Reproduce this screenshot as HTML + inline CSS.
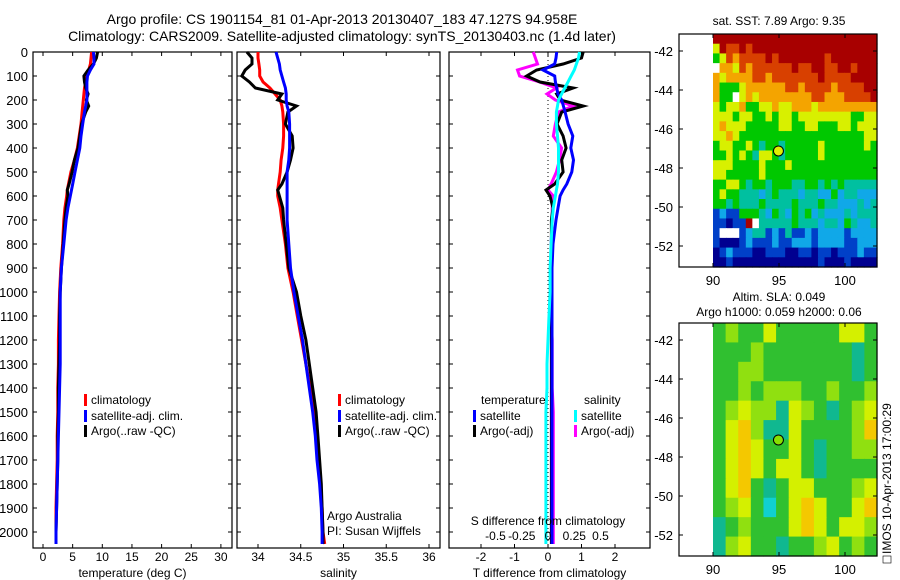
<!DOCTYPE html>
<html><head><meta charset="utf-8"><style>
body{margin:0;background:#fff;}
svg{display:block;font-family:"Liberation Sans",sans-serif;}
text{fill:#000;}
</style></head><body>
<svg id="fig" width="900" height="580" viewBox="0 0 900 580">
<text x="342" y="24" font-size="14" text-anchor="middle">Argo profile: CS 1901154_81 01-Apr-2013 20130407_183 47.127S 94.958E</text>
<text x="342" y="41" font-size="14" text-anchor="middle">Climatology: CARS2009. Satellite-adjusted climatology: synTS_20130403.nc (1.4d later)</text>
<text x="779" y="25" font-size="12" text-anchor="middle">sat. SST: 7.89 Argo: 9.35</text>
<text x="779" y="301" font-size="12" text-anchor="middle">Altim. SLA: 0.049</text>
<text x="779" y="316" font-size="12" text-anchor="middle">Argo h1000: 0.059 h2000: 0.06</text>
<g transform="translate(891,470) rotate(-90)"><rect x="-93" y="-8" width="7" height="8" fill="none" stroke="#000" stroke-width="0.6"/><text x="-84" y="0" font-size="12">IMOS 10-Apr-2013 17:00:29</text></g>
</svg>
<script>
const depths=[0,25,50,75,100,125,150,175,200,225,250,300,350,400,450,500,550,575,600,650,700,800,900,1000,1100,1200,1300,1400,1500,1600,1700,1800,1900,2000,2050];
const tempClim=[8.2,8.1,8.0,7.7,7.4,7.2,7.0,6.9,6.8,6.7,6.6,6.4,6.1,5.8,5.3,4.7,4.3,4.1,4.0,3.7,3.5,3.3,3.0,2.8,2.7,2.6,2.6,2.5,2.5,2.4,2.4,2.3,2.2,2.2,2.2];
const tempSat=[8.5,8.6,8.6,8.0,7.5,7.4,7.4,7.4,7.4,7.2,7.0,6.7,6.4,6.2,5.8,5.4,5.0,4.8,4.6,4.2,3.9,3.5,3.1,2.9,2.9,2.9,2.9,2.8,2.7,2.6,2.5,2.4,2.3,2.2,2.2];
const tempArgo=[9.2,9.0,8.5,7.6,6.9,7.0,7.2,7.6,7.3,7.7,7.2,6.5,6.2,5.9,5.3,4.9,4.4,4.1,4.2,3.9,3.7,3.4,3.1,2.9,2.8,2.8,2.7,2.6,2.6,2.5,2.5,2.4,2.3,2.2,2.2];
const salClim=[34.0,34.0,34.01,34.02,34.02,34.06,34.14,34.20,34.26,34.28,34.29,34.30,34.30,34.29,34.27,34.26,34.24,34.23,34.23,34.26,34.28,34.32,34.35,34.41,34.46,34.51,34.56,34.61,34.65,34.68,34.71,34.73,34.75,34.76,34.78];
const salSat=[34.21,34.23,34.25,34.26,34.28,34.30,34.32,34.33,34.33,34.34,34.36,34.37,34.37,34.37,34.36,34.34,34.34,34.34,34.34,34.34,34.34,34.36,34.38,34.42,34.47,34.52,34.56,34.60,34.64,34.67,34.69,34.72,34.74,34.75,34.75];
const salArgo=[33.87,33.93,33.93,33.85,33.81,33.9,33.97,34.28,34.23,34.45,34.35,34.32,34.40,34.41,34.38,34.34,34.28,34.23,34.25,34.29,34.30,34.33,34.36,34.45,34.50,34.56,34.60,34.64,34.68,34.70,34.72,34.74,34.75,34.76,34.76];
const tDiffSat=[0.26,0.24,0.2,-0.15,0.2,0.22,0.26,0.3,0.41,0.46,0.51,0.6,0.74,0.68,0.76,0.71,0.56,0.45,0.36,0.3,0.24,0.15,0.12,0.12,0.12,0.12,0.12,0.12,0.12,0.12,0.12,0.12,0.12,0.12,0.12];
const tDiffArgo=[1.05,1.0,0.45,-0.34,-0.64,-0.24,0.75,0.26,0.36,1.05,0.41,0.27,0.45,0.54,0.41,0.45,0.2,-0.06,0.06,0.15,0.1,0.1,0.1,0.1,0.1,0.1,0.1,0.1,0.1,0.1,0.1,0.1,0.1,0.1,0.1];
const sDiffSat=[0.3,0.29,0.27,0.25,0.22,0.19,0.16,0.13,0.1,0.09,0.08,0.08,0.09,0.1,0.1,0.1,0.09,0.08,0.07,0.05,0.04,0.03,0.02,0.02,0.01,0.0,-0.01,-0.01,-0.02,-0.02,-0.02,-0.02,-0.02,-0.02,-0.02];
const sDiffArgo=[-0.14,-0.12,-0.1,-0.29,-0.27,-0.08,0.08,-0.01,0.07,0.24,0.1,0.07,0.05,0.13,0.11,0.08,0.03,0.0,0.05,0.04,0.04,0.03,0.03,0.03,0.03,0.04,0.04,0.04,0.05,0.05,0.05,0.05,0.05,0.05,0.05];
const depthTicks=[0,100,200,300,400,500,600,700,800,900,1000,1100,1200,1300,1400,1500,1600,1700,1800,1900,2000];
const tempTicks=[0,5,10,15,20,25,30];
const salTicks=[34,34.5,35,35.5,36];
const tDiffTicks=[-2,-1,0,1,2];
const sDiffTicks=[-0.5,-0.25,0,0.25,0.5];
const latTicks=[-42,-44,-46,-48,-50,-52];
const lonTicks=[90,95,100];
const argoLon=94.958, argoLat=-47.127;
const sstRows=["RRRRRRRRRRRRRRRRRRRRRRRRR","yRrrRrRRRRRRRRRRRRRRRRRRR","gyrorrrrRrRRRRRRRrRRRRRRR","wooyrorrrrrrRrrRRrrRRrRRR","oyoooorrorrrrrrrRrrrrRRRR","ogggyoooooorrorrrrorrrrRR","oggwyoyoooooooorrooorrrrR","ygyyoggyyoyyoooyooooooooo","yyygyyggygyygyyyyyyyyggyy","yoyyygggggyyggyygggyygyyy","yyoygggggggggggggggggggyy","gyyggygtggtgggggyggggggyg","ggygygtyygtgggggygggggggg","yyyggggygggyggggggggggggg","yygggggyggggggggggggggggg","ggyygtggtgggttggtgtgttttt","gyggtttctgtttcttccgcttccc","ggtgtttgttttgtttgttccctct","bcbbgggtcgtcgtgctccctcttt","bbnbbRwtttttgtttcttcgtcct","bwwwbcttbcbtbbcbccccbcccc","bnnnbcbbbcbbcccbccccbbccc","nbcbbbnnbbbnnbbnbbnbbbcbb","nnbnnnnnnnnnnnnnbnnnbnnnn"];
const slaRows=["GgGGyGGGGGyyG","GGGgGGGGGGGtG","GGggGGGGGGGtG","GGgGgggGGgGGg","GgyggtygGtGgy","GyogttyGGGGgo","GyoyGGyGtGGgg","GyoyGyyGtGGGG","GyoGtGyyGGGgy","GgyGcGyoyGGyo","tGgGGGyoyGyyg","tgyGGtGGgyGgG"];
</script>
<script>
const NS="http://www.w3.org/2000/svg";
const svg=document.getElementById('fig');
function mk(tag,attrs,parent){const e=document.createElementNS(NS,tag);for(const k in attrs)e.setAttribute(k,attrs[k]);(parent||svg).appendChild(e);return e;}
const Y0=52,DY=0.24,PT=52,PB=548;
const yD=d=>Y0+d*DY;
const panels=[
 {name:'temperature-panel',x0:33,x1:232,ox:43,sc:5.93,ref:0,ticks:tempTicks,label:'temperature (deg C)'},
 {name:'salinity-panel',x0:237,x1:440,ox:258,sc:85.5,ref:34,ticks:salTicks,label:'salinity'},
 {name:'difference-panel',x0:449,x1:650,ox:548,sc:33.5,ref:0,ticks:tDiffTicks,label:'T difference from climatology'}];
const sScale=v=>548+v*105;
panels.forEach((p,i)=>{
 const g=mk('g',{});
 
 
 p.g=g;
 p.x=v=>p.ox+(v-p.ref)*p.sc;
 mk('rect',{x:p.x0,y:PT,width:p.x1-p.x0,height:PB-PT,fill:'#fff',stroke:'#000','stroke-width':1.2},g);
 depthTicks.forEach(d=>{const y=yD(d);
  mk('line',{x1:p.x0,y1:y,x2:p.x0+4,y2:y,stroke:'#000'},g);
  mk('line',{x1:p.x1,y1:y,x2:p.x1-4,y2:y,stroke:'#000'},g);
  if(i===0){const t=mk('text',{x:28,y:y+5,'font-size':13,'text-anchor':'end'},g);t.textContent=d;
   
   }
 });
 p.ticks.forEach(v=>{const x=p.x(v);
  mk('line',{x1:x,y1:PB,x2:x,y2:PB-4,stroke:'#000'},g);
  mk('line',{x1:x,y1:PT,x2:x,y2:PT+4,stroke:'#000'},g);
  const t=mk('text',{x:x,y:561,'font-size':12,'text-anchor':'middle'},g);t.textContent=v;
  
  
 });
 const xl=mk('text',{x:(p.x0+p.x1)/2,y:577,'font-size':12,'text-anchor':'middle'},g);xl.textContent=p.label;
 
 
});
function line(g,vals,fx,color,name){
 let pts=vals.map((v,i)=>fx(v).toFixed(1)+','+yD(depths[i]).toFixed(1)).join(' ');
 const pl=mk('polyline',{points:pts,fill:'none',stroke:color,'stroke-width':3,'stroke-linejoin':'miter'},g);
 
 
}
const P0=panels[0],P1=panels[1],P2=panels[2];
line(P0.g,tempClim,P0.x,'#f00','temp-climatology-line');
line(P0.g,tempArgo,P0.x,'#000','temp-argo-line');
line(P0.g,tempSat,P0.x,'#00f','temp-satellite-line');
line(P1.g,salClim,P1.x,'#f00','sal-climatology-line');
line(P1.g,salArgo,P1.x,'#000','sal-argo-line');
line(P1.g,salSat,P1.x,'#00f','sal-satellite-line');
mk('line',{x1:548,y1:PT,x2:548,y2:PB,stroke:'#000','stroke-dasharray':'1,3'},P2.g);
line(P2.g,sDiffArgo,sScale,'#f0f','s-diff-argo-line');
line(P2.g,tDiffArgo,P2.x,'#000','t-diff-argo-line');
line(P2.g,tDiffSat,P2.x,'#00f','t-diff-satellite-line');
line(P2.g,sDiffSat,sScale,'#0ff','s-diff-satellite-line');
sDiffTicks.forEach(v=>{const t=mk('text',{x:sScale(v),y:540,'font-size':12,'text-anchor':'middle'},P2.g);t.textContent=v;
 
 });
function txt(x,y,s,name,g,anchor){const t=mk('text',{x:x,y:y,'font-size':12,'text-anchor':anchor||'start'},g);t.textContent=s;
 
 return t;}
txt(548,525,'S difference from climatology','s-diff-axis-title',P2.g,'middle');
txt(327,520,'Argo Australia','credit-line-1',P1.g);
txt(327,535,'PI: Susan Wijffels','credit-line-2',P1.g);
function leg(x,y,color,label,g){mk('rect',{x:x,y:y-10,width:3,height:12,fill:color},g);txt(x+7,y,label,'legend-entry',g);}
[[P0.g,84],[P1.g,338]].forEach(([g,x])=>{leg(x,404,'#f00','climatology',g);leg(x,420,'#00f','satellite-adj. clim.',g);leg(x,435,'#000','Argo(..raw -QC)',g);});
txt(481,404,'temperature','legend-header-temperature',P2.g);
leg(473,420,'#00f','satellite',P2.g);leg(473,435,'#000','Argo(-adj)',P2.g);
txt(584,404,'salinity','legend-header-salinity',P2.g);
leg(574,420,'#0ff','satellite',P2.g);leg(574,435,'#f0f','Argo(-adj)',P2.g);

const sstCol={R:'#a80000',r:'#d84000',o:'#f4a400',y:'#d8f000',g:'#00c800',t:'#00c0a0',c:'#10a8e8',b:'#0040c8',n:'#000090',w:'#ffffff'};
const slaCol={G:'#30c030',g:'#90e010',y:'#d4f000',o:'#f4c800',t:'#10b890',c:'#10d0d0'};
function map(name,top,rows,cols,markerFill){
 const g=mk('g',{});
 
 
 const L=679,R=877,B=top+233,lonX=v=>713+(v-90)*13.2;
 const latYf=v=>top+17+(-42-v)*19.5;
 mk('rect',{x:L,y:top,width:R-L,height:B-top,fill:'#fff'},g);
 const nr=rows.length,nc=rows[0].length,cw=(R-713)/nc,ch=(B-top)/nr;
 rows.forEach((r,i)=>{for(let j=0;j<nc;j++){const c=mk('rect',{x:(713+j*cw).toFixed(2),y:(top+i*ch).toFixed(2),width:(cw+0.6).toFixed(2),height:(ch+0.6).toFixed(2),fill:cols[r[j]]},g);
   
   }});
 mk('rect',{x:L,y:top,width:R-L,height:B-top,fill:'none',stroke:'#000','stroke-width':1.2},g);
 latTicks.forEach(v=>{const y=latYf(v);mk('line',{x1:L,y1:y,x2:L+4,y2:y,stroke:'#000'},g);mk('line',{x1:R,y1:y,x2:R-4,y2:y,stroke:'#000'},g);
  txt(673,y+5,v,'lat-tick-label',g,'end').setAttribute('font-size',13);});
 lonTicks.forEach(v=>{const x=lonX(v);mk('line',{x1:x,y1:B,x2:x,y2:B-4,stroke:'#000'},g);mk('line',{x1:x,y1:top,x2:x,y2:top+4,stroke:'#000'},g);
  txt(x,B+18,v,'lon-tick-label',g,'middle').setAttribute('font-size',13);});
 const m=mk('circle',{cx:lonX(argoLon),cy:latYf(argoLat),r:5,fill:markerFill,stroke:'#000','stroke-width':1},g);
 
 
}
map('sst-map',34,sstRows,sstCol,'#e0f000');
map('sla-map',323,slaRows,slaCol,'#88e000');
</script>
</body></html>
